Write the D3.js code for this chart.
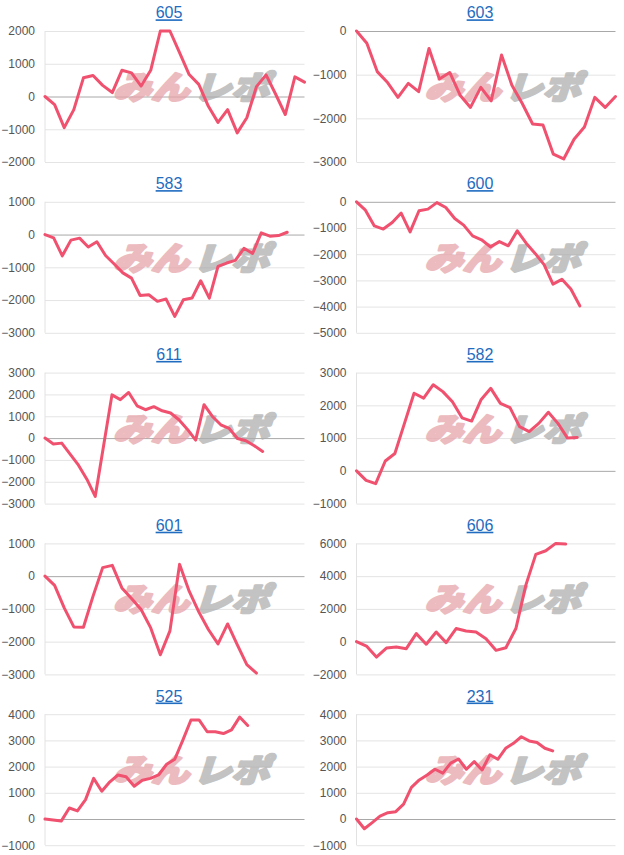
<!DOCTYPE html>
<html>
<head>
<meta charset="utf-8">
<script src="https://cdn.jsdelivr.net/npm/d3@7/dist/d3.min.js"></script>
<style>
  html, body { margin: 0; padding: 0; background: #fff; }
  svg { display: block; }
</style>
</head>
<body>
<svg id="chart" width="624" height="855"></svg>
<script>
// ---- data ----
const titles = ["605", "603", "583", "600", "611", "582", "601", "606", "525", "231"];

const s605 = [0, -250, -950, -400, 570, 640, 340, 120, 800, 720, 320, 800, 2000, 2000, 1340, 670, 370, -300, -790, -400, -1110, -650, 300, 660, 70, -550, 600, 440];
const s603 = [0, -280, -930, -1180, -1520, -1200, -1390, -400, -1100, -950, -1470, -1750, -1290, -1600, -550, -1240, -1660, -2130, -2150, -2820, -2930, -2480, -2200, -1520, -1750, -1500];
const s583 = [0, -100, -650, -170, -110, -380, -220, -640, -900, -1170, -1330, -1860, -1840, -2040, -1970, -2500, -1990, -1940, -1410, -1940, -970, -870, -790, -420, -580, 50, -50, -30, 70];
const s600 = [0, -320, -920, -1040, -790, -430, -1150, -340, -280, -30, -220, -640, -890, -1300, -1450, -1720, -1520, -1680, -1110, -1580, -1970, -2400, -3140, -2960, -3330, -3970];
const s611 = [0, -270, -230, -730, -1240, -1880, -2670, -345, 1980, 1760, 2090, 1480, 1300, 1440, 1250, 1150, 840, 410, -90, 1530, 990, 610, 440, -20, -120, -350, -610];
const s582 = [0, -290, -390, 300, 530, 1450, 2370, 2220, 2630, 2420, 2110, 1620, 1520, 2180, 2520, 2060, 1930, 1350, 1200, 1450, 1790, 1450, 1000, 1020];
const s601 = [0, -280, -970, -1550, -1560, -610, 260, 330, -360, -680, -1020, -1580, -2400, -1670, 360, -460, -1090, -1630, -2070, -1460, -2090, -2700, -2960];
const s606 = [0, -270, -940, -390, -330, -430, 490, -160, 590, -60, 800, 650, 590, 180, -530, -370, 800, 3450, 5330, 5550, 6000, 5960];
const s525 = [0, -40, -80, 420, 310, 740, 1550, 1060, 1420, 1680, 1610, 1250, 1480, 1550, 1680, 2090, 2280, 3010, 3780, 3780, 3330, 3330, 3260, 3400, 3890, 3570];
const s231 = [0, -370, -140, 110, 240, 280, 570, 1210, 1490, 1680, 1900, 1750, 2130, 2290, 1900, 2190, 1870, 2450, 2280, 2700, 2890, 3140, 2980, 2920, 2700, 2600];

const seriesList = [s605, s603, s583, s600, s611, s582, s601, s606, s525, s231];

// x-axis extent (in data-point steps) of each chart
const xMaxes = [27, 25, 30, 29, 31, 27, 27, 26, 32, 33];

// y-axis tick labels of each chart
const ticks605 = [-2000, -1000, 0, 1000, 2000];
const ticks603 = [-3000, -2000, -1000, 0];
const ticks583 = [-3000, -2000, -1000, 0, 1000];
const ticks600 = [-5000, -4000, -3000, -2000, -1000, 0];
const ticks611 = [-3000, -2000, -1000, 0, 1000, 2000, 3000];
const ticks582 = [-1000, 0, 1000, 2000, 3000];
const ticks601 = [-3000, -2000, -1000, 0, 1000];
const ticks606 = [-2000, 0, 2000, 4000, 6000];
const ticks525 = [-1000, 0, 1000, 2000, 3000, 4000];
const ticks231 = [-1000, 0, 1000, 2000, 3000, 4000];
const tickList = [ticks605, ticks603, ticks583, ticks600, ticks611, ticks582, ticks601, ticks606, ticks525, ticks231];

// ---- drawing ----
const svg = d3.select("#chart");
const LINE = "#f0516f";

titles.forEach((title, i) => {
  const r = Math.floor(i / 2), c = i % 2;
  const x0 = c ? 356.5 : 45, x1 = c ? 615.5 : 304.5;
  const top = 31 + r * 170.8, bottom = top + 131;
  const ticks = tickList[i];
  const data = seriesList[i];

  const x = d3.scaleLinear().domain([0, xMaxes[i]]).range([x0, x1]);
  const y = d3.scaleLinear().domain(d3.extent(ticks)).range([bottom, top]);

  const g = svg.append("g");

  // title
  g.append("text")
    .attr("x", c ? 480 : 169)
    .attr("y", 18.3 + r * 170.8)
    .attr("text-anchor", "middle")
    .attr("font-family", "'Liberation Sans', Arial, sans-serif")
    .attr("font-size", 16)
    .attr("fill", "#1f6cc0")
    .style("text-decoration", "underline")
    .text(title);

  // gridlines + axis
  const axis = d3.axisLeft(y).tickValues(ticks).tickSize(-(x1 - x0)).tickPadding(10).tickFormat(d3.format("d"));
  const ag = g.append("g").attr("transform", `translate(${x0},0)`).call(axis);
  ag.select(".domain").remove();
  ag.selectAll(".tick line")
    .attr("stroke", d => d === 0 ? "#a8a8a8" : "#e4e4e4")
    .attr("stroke-width", 1);
  ag.selectAll(".tick text")
    .attr("font-family", "'Liberation Sans', Arial, sans-serif")
    .attr("font-size", 12)
    .attr("fill", "#555");

  // vertical axis line
  g.append("line")
    .attr("x1", x0).attr("x2", x0)
    .attr("y1", top).attr("y2", bottom)
    .attr("stroke", "#e2e2e2");

  // watermark
  const wm = g.append("g")
    .attr("transform", `translate(${x0 + 58},${top + 68}) skewX(-18)`)
    .attr("font-family", "'Noto Sans CJK JP', sans-serif")
    .attr("font-weight", 900)
    .attr("font-size", 32)
    .attr("stroke-width", 2.4)
    .attr("stroke-linejoin", "round")
    .attr("opacity", 0.72);
  wm.append("text")
    .attr("x", 10).attr("y", 0)
    .attr("textLength", 76).attr("lengthAdjust", "spacingAndGlyphs")
    .attr("fill", "#e6a2a8").attr("stroke", "#e6a2a8")
    .text("みん");
  wm.append("text")
    .attr("x", 90).attr("y", 0)
    .attr("textLength", 76).attr("lengthAdjust", "spacingAndGlyphs")
    .attr("fill", "#acacac").attr("stroke", "#acacac")
    .text("レポ");

  // series line
  g.append("path")
    .datum(data)
    .attr("fill", "none")
    .attr("stroke", LINE)
    .attr("stroke-width", 3)
    .attr("stroke-linejoin", "round")
    .attr("stroke-linecap", "round")
    .attr("d", d3.line().x((d, k) => x(k)).y(d => y(d)));
});
</script>
</body>
</html>
